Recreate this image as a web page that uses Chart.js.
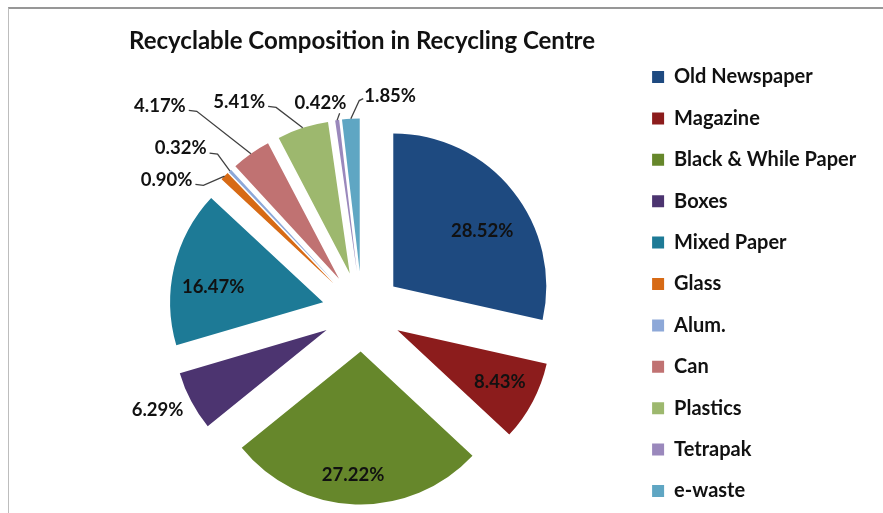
<!DOCTYPE html>
<html>
<head>
<meta charset="utf-8">
<title>Recyclable Composition in Recycling Centre</title>
<script src="https://cdn.jsdelivr.net/npm/chart.js@4.4.1/dist/chart.umd.min.js"></script>
<style>
  html, body { margin: 0; padding: 0; background: #fff; }
  #wrap { position: relative; width: 883px; height: 513px; overflow: hidden; }
  #frame { position: absolute; left: 8px; top: 7px; right: 0; bottom: 0;
           border-top: 2px solid #979797; border-left: 1px solid #bdbdbd; pointer-events: none; }
</style>
</head>
<body>
<div id="wrap">
  <canvas id="pie-chart" width="883" height="513"></canvas>
  <div id="frame"></div>
</div>
<script>
// chart data ------
var categories = ['Old Newspaper', 'Magazine', 'Black & While Paper', 'Boxes', 'Mixed Paper',
                  'Glass', 'Alum.', 'Can', 'Plastics', 'Tetrapak', 'e-waste'];
var shares = [28.52, 8.43, 27.22, 6.29, 16.47, 0.90, 0.32, 4.17, 5.41, 0.42, 1.85];

var sliceColors = ['#1e4a80', '#8c1c1c', '#66872b', '#4c3470', '#1d7a96', '#d76a15',
                   '#8da8d8', '#c07272', '#9db86e', '#9a88bc', '#5fa6c3'];

// label spot for each slice: [angle from 12 o'clock, distance from slice tip, leader line side]
var labelPlacement = [
  [57.8, 105, null], [117, 115, null], [183.5, 124, null], [244.7, 187, null],
  [277.8, 111, null], [301.8, 196.5, 'left'], [311, 204, 'left'], [314, 249, 'left'],
  [327.2, 204, 'left'], [347.8, 172.5, 'below'], [9.8, 178.6, 'right']
];

// pull every slice out from the middle (same distance for all) ------
var explodePlugin = {
  id: 'explode',
  afterDatasetsUpdate: function (chart, args, opts) {
    chart.getDatasetMeta(0).data.forEach(function (arc) {
      var mid = (arc.startAngle + arc.endAngle) / 2;
      arc.x += Math.cos(mid) * opts.distance;
      arc.y += Math.sin(mid) * opts.distance;
    });
  }
};

// percentage labels + leader lines ------
var labelPlugin = {
  id: 'sliceLabels',
  afterDatasetsDraw: function (chart, args, opts) {
    var ctx = chart.ctx;
    var arcs = chart.getDatasetMeta(0).data;
    ctx.save();
    ctx.font = opts.font;
    ctx.fillStyle = opts.color;
    ctx.strokeStyle = opts.lineColor;
    ctx.lineWidth = opts.lineWidth;
    ctx.textAlign = 'center';
    ctx.textBaseline = 'middle';
    arcs.forEach(function (arc, i) {
      var place = labelPlacement[i];
      var a = (place[0] - 90) * Math.PI / 180;
      var lx = arc.x + Math.cos(a) * place[1];
      var ly = arc.y + Math.sin(a) * place[1];
      var text = shares[i].toFixed(2) + '%';
      var w = ctx.measureText(text).width;

      if (place[2]) {
        var mid = (arc.startAngle + arc.endAngle) / 2;
        var ex = arc.x + Math.cos(mid) * arc.outerRadius;
        var ey = arc.y + Math.sin(mid) * arc.outerRadius;
        ctx.beginPath();
        if (place[2] === 'left') {
          ctx.moveTo(lx + w / 2 + 3, ly + 4.5);
          ctx.lineTo(lx + w / 2 + 11, ly + 5.5);
        } else if (place[2] === 'right') {
          ctx.moveTo(lx - w / 2 - 1, ly + 3);
          ctx.lineTo(lx - w / 2 - 5, ly + 5);
        } else {
          ctx.moveTo(ex + 2.5, ly + 10);
        }
        ctx.lineTo(ex, ey);
        ctx.stroke();
      }
      ctx.fillText(text, lx, ly);
    });
    ctx.restore();
  }
};

new Chart(document.getElementById('pie-chart'), {
  type: 'pie',
  data: {
    labels: categories,
    datasets: [{
      data: shares,
      backgroundColor: sliceColors,
      borderWidth: 0
    }]
  },
  options: {
    responsive: false,
    animation: false,
    radius: 153,
    layout: { padding: { left: 93.4, right: 16.8, top: 20, bottom: -35 } },
    plugins: {
      title: {
        display: true,
        fullSize: false,
        text: 'Recyclable Composition in Recycling Centre',
        color: '#111',
        font: { family: 'Lato', size: 24, weight: 'bold' },
        padding: { top: 6.9, bottom: 54.3 }
      },
      legend: {
        position: 'right',
        align: 'center',
        labels: {
          boxWidth: 12,
          boxHeight: 12,
          padding: 21.4,
          color: '#111',
          font: { family: 'Lato', size: 20, weight: 'bold' }
        }
      },
      tooltip: { enabled: false },
      explode: { distance: 40 },
      sliceLabels: {
        font: 'bold 18.5px Lato',
        color: '#111',
        lineColor: '#404040',
        lineWidth: 1.3
      }
    }
  },
  plugins: [explodePlugin, labelPlugin]
});
</script>
</body>
</html>
